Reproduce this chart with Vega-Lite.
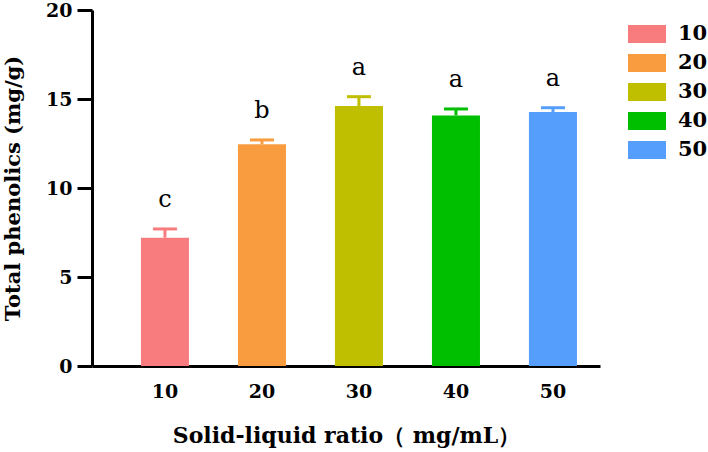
{
  "$schema": "https://vega.github.io/schema/vega-lite/v6.json",
  "width": 508,
  "height": 356,
  "autosize": {"type": "none"},
  "padding": {"left": 92, "top": 10, "right": 108, "bottom": 86},
  "background": "white",
  "config": {
    "view": {"stroke": null},
    "font": "DejaVu Serif"
  },
  "data": {
    "values": [
      {"ratio": "10", "value": 7.21, "upper": 7.7, "letter": "c"},
      {"ratio": "20", "value": 12.46, "upper": 12.7, "letter": "b"},
      {"ratio": "30", "value": 14.6, "upper": 15.13, "letter": "a"},
      {"ratio": "40", "value": 14.08, "upper": 14.44, "letter": "a"},
      {"ratio": "50", "value": 14.27, "upper": 14.51, "letter": "a"}
    ]
  },
  "encoding": {
    "x": {
      "field": "ratio",
      "type": "ordinal",
      "scale": {"paddingInner": 0.505, "paddingOuter": 0.371, "align": 0.68},
      "axis": {
        "title": "Solid-liquid ratio（ mg/mL）",
        "titleFont": "DejaVu Serif",
        "titleFontSize": 22,
        "titleFontWeight": "bold",
        "titleColor": "black",
        "titlePadding": 24,
        "labelFont": "DejaVu Serif",
        "labelFontSize": 19,
        "labelFontWeight": "bold",
        "labelColor": "black",
        "labelAngle": 0,
        "labelPadding": 16,
        "ticks": false,
        "domainColor": "black",
        "domainWidth": 3
      }
    }
  },
  "layer": [
    {
      "mark": {"type": "bar", "opacity": 1},
      "encoding": {
        "y": {
          "field": "value",
          "type": "quantitative",
          "scale": {"domain": [0, 20], "nice": false},
          "axis": {
            "title": "Total phenolics (mg/g)",
            "titleFont": "DejaVu Serif",
            "titleFontSize": 21,
            "titleFontWeight": "bold",
            "titleColor": "black",
            "titlePadding": 22,
            "values": [0, 5, 10, 15, 20],
            "labelFont": "DejaVu Serif",
            "labelFontSize": 19,
            "labelFontWeight": "bold",
            "labelColor": "black",
            "labelPadding": 5,
            "tickSize": 15,
            "tickWidth": 3,
            "tickColor": "black",
            "domainColor": "black",
            "domainWidth": 3,
            "grid": false
          }
        },
        "color": {
          "field": "ratio",
          "type": "nominal",
          "scale": {
            "domain": ["10", "20", "30", "40", "50"],
            "range": ["#F87C7E", "#F99C3F", "#BFBF00", "#00BF00", "#569EFB"]
          },
          "legend": {
            "title": null,
            "orient": "none",
            "legendX": 536,
            "legendY": 5,
            "padding": 0,
            "symbolType": "M-1,-0.47H1V0.47H-1Z",
            "symbolSize": 1444,
            "symbolStrokeWidth": 0,
            "symbolOpacity": 1,
            "rowPadding": 0,
            "labelFont": "DejaVu Serif",
            "labelFontSize": 21,
            "labelFontWeight": "bold",
            "labelColor": "black",
            "labelOffset": 12
          }
        }
      }
    },
    {
      "mark": {"type": "rule", "strokeWidth": 3, "opacity": 1},
      "encoding": {
        "y": {"field": "value", "type": "quantitative"},
        "y2": {"field": "upper"},
        "color": {"field": "ratio", "type": "nominal"}
      }
    },
    {
      "mark": {"type": "tick", "size": 24, "thickness": 3, "orient": "horizontal", "opacity": 1},
      "encoding": {
        "y": {"field": "upper", "type": "quantitative"},
        "color": {"field": "ratio", "type": "nominal"}
      }
    },
    {
      "mark": {"type": "text", "font": "DejaVu Serif", "fontSize": 24, "baseline": "alphabetic", "dy": -22, "color": "black"},
      "encoding": {
        "y": {"field": "upper", "type": "quantitative"},
        "text": {"field": "letter"}
      }
    }
  ]
}
